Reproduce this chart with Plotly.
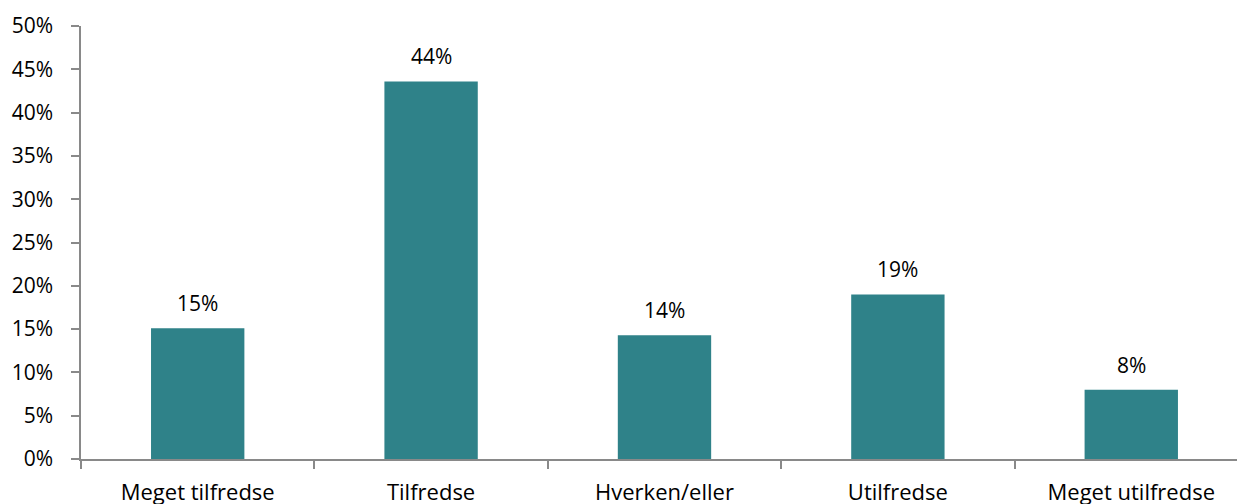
import plotly.graph_objects as go

# Data
categories = ["Meget tilfredse", "Tilfredse", "Hverken/eller", "Utilfredse", "Meget utilfredse"]
values = [15.1, 43.6, 14.3, 19.0, 8.0]
labels = ["15%", "44%", "14%", "19%", "8%"]
y_ticks = [0, 5, 10, 15, 20, 25, 30, 35, 40, 45, 50]
y_ticktext = [f"{v}%" for v in y_ticks]

BAR_COLOR = "#2F8289"
AXIS_COLOR = "#898989"
FONT = dict(family="Open Sans", size=21, color="black")

fig = go.Figure()

fig.add_trace(
    go.Bar(
        x=categories,
        y=values,
        marker_color=BAR_COLOR,
        marker_line_width=0,
        width=0.4,
        hoverinfo="skip",
    )
)

# value labels above bars
for cat, val, lab in zip(categories, values, labels):
    fig.add_annotation(
        x=cat,
        y=val,
        text=lab,
        showarrow=False,
        yanchor="bottom",
        yshift=9,
        font=FONT,
    )

fig.update_layout(
    width=1237,
    height=504,
    margin=dict(l=81, r=0, t=26, b=45),
    plot_bgcolor="white",
    paper_bgcolor="white",
    font=FONT,
    showlegend=False,
    xaxis=dict(
        range=[-0.5, 4.453],
        showline=True,
        linecolor=AXIS_COLOR,
        linewidth=1.5,
        ticks="outside",
        tickson="boundaries",
        ticklen=8,
        tickcolor=AXIS_COLOR,
        tickwidth=1.5,
        ticklabelstandoff=13,
        tickfont=dict(family="Open Sans", size=22, color="black"),
        showgrid=False,
        zeroline=False,
        fixedrange=True,
        automargin=False,
    ),
    yaxis=dict(
        range=[0, 50],
        tickvals=y_ticks,
        ticktext=y_ticktext,
        showline=True,
        linecolor=AXIS_COLOR,
        linewidth=1.5,
        ticks="outside",
        ticklen=8,
        tickcolor=AXIS_COLOR,
        tickwidth=1.5,
        ticklabelstandoff=14,
        showgrid=False,
        zeroline=False,
        fixedrange=True,
        automargin=False,
    ),
)

# drop the browser's default body margin so the figure fills the window
fig.write_html(
    "out.html",
    config={"displayModeBar": False},
    post_script="document.body.style.margin = '0';",
)
